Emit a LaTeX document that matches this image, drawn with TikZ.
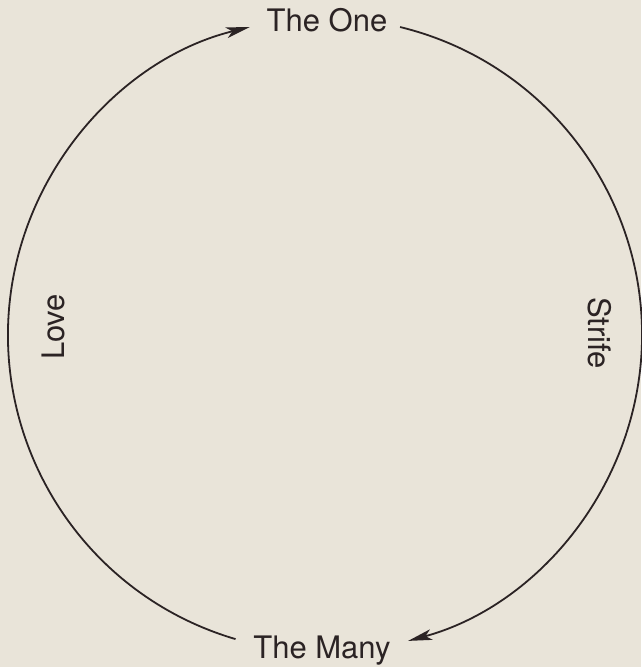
\documentclass[tikz,border=0pt]{standalone}
\usepackage{fontspec}
\setmainfont{TeX Gyre Heros}
\usepackage{xcolor}
\usepackage{tikz}
\usetikzlibrary{
  positioning,
  arrows.meta
}

\definecolor{paper}{HTML}{E9E4D9}
\definecolor{ink}{HTML}{2B2324}

\begin{document}
\begin{tikzpicture}[
  x=0.5pt, y=0.5pt,
  font=\fontsize{15.5}{18}\selectfont,
  label/.style={
    text=ink,
    inner sep=0pt,
    anchor=base
  },
  cyclearrow/.style={
    -{Stealth[length=12pt, width=5.4pt, inset=3pt]},
    line width=0.9pt,
    draw=ink
  }
]

% Background
\fill[paper] (-325,-332) rectangle (316,335);
\useasboundingbox (-325,-332) rectangle (316,335);

% Labels
\node[label] (one) at (2,303) {The One};
\node[label] (many) at (-3,-323) {The Many};
\node[label, rotate=90] (love) at (-260,8) {Love};
\node[label, rotate=-90] (strife) at (263,2) {Strife};

% Arc end points
\coordinate (manyL) at (253.6:317);
\coordinate (oneL) at (103.7:317);
\coordinate (oneR) at (76.3:317);
\coordinate (manyR) at (-74.8:317);

% Transitions
\draw[cyclearrow] (manyL) arc[start angle=253.6, end angle=103.7, radius=317];
\draw[cyclearrow] (oneR) arc[start angle=76.3, end angle=-74.8, radius=317];

\end{tikzpicture}
\end{document}
